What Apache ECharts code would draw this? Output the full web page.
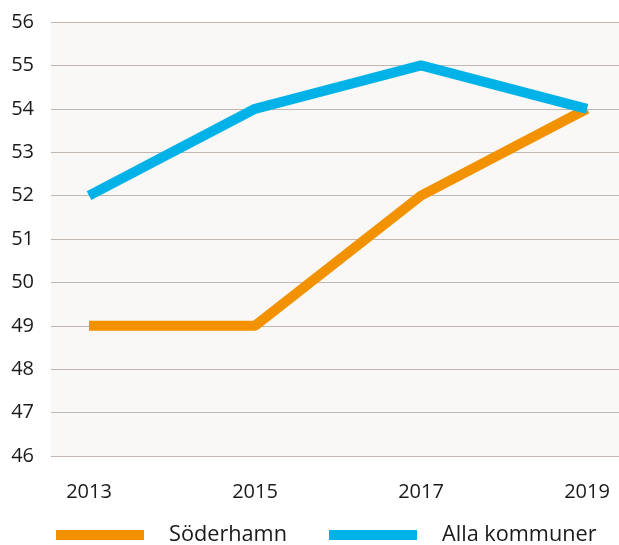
<!DOCTYPE html>
<html>
<head>
<meta charset="utf-8">
<script src="https://cdn.jsdelivr.net/npm/echarts@6/dist/echarts.min.js"></script>
<style>
  html, body { margin: 0; padding: 0; background: #ffffff; }
  #chart { width: 619px; height: 545px; }
</style>
</head>
<body>
<div id="chart"></div>
<script>
// Survey years shown on the x axis
const years = [2013, 2015, 2017, 2019];
// Index values per year
const soderhamn = [49, 49, 52, 54];
const allaKommuner = [52, 54, 55, 54];
// Y axis range
const yMin = 46, yMax = 56, yStep = 1;

const pairs = (vals) => years.map((y, i) => [y, vals[i]]);

const chart = echarts.init(document.getElementById('chart'), null, { renderer: 'canvas' });
const font = '"Open Sans", "Noto Sans", sans-serif';

chart.setOption({
  animation: false,
  textStyle: { fontFamily: font },
  grid: {
    left: 51, top: 22, right: 0, height: 434,
    show: true, backgroundColor: '#f9f8f7', borderWidth: 0
  },
  legend: {
    left: 56, top: 524, padding: 0,
    itemWidth: 88, itemHeight: 10, itemGap: 42,
    icon: 'rect',
    textStyle: {
      fontSize: 21.7, lineHeight: 22, color: '#1a1a1a', fontFamily: font,
      padding: [0, 0, 0, 20]
    },
    data: ['Söderhamn', 'Alla kommuner']
  },
  xAxis: {
    type: 'value',
    min: 2012.542, max: 2019.385,
    axisLine: { show: false },
    axisTick: { show: false },
    splitLine: { show: false },
    axisLabel: {
      customValues: years,
      fontSize: 20, color: '#1a1a1a', margin: 26,
      formatter: (v) => String(v)
    }
  },
  yAxis: {
    type: 'value',
    min: yMin, max: yMax, interval: yStep,
    axisLine: { show: false },
    axisTick: { show: false },
    axisLabel: { fontSize: 20, color: '#1a1a1a', margin: 17 },
    splitLine: { lineStyle: { color: '#c2b6b0', width: 1 } }
  },
  series: [
    {
      name: 'Söderhamn', type: 'line', data: pairs(soderhamn),
      showSymbol: false, symbol: 'none',
      itemStyle: { color: '#f39200' },
      lineStyle: { color: '#f39200', width: 10 }
    },
    {
      name: 'Alla kommuner', type: 'line', data: pairs(allaKommuner),
      showSymbol: false, symbol: 'none',
      itemStyle: { color: '#00b2e8' },
      lineStyle: { color: '#00b2e8', width: 10 }
    }
  ]
});
</script>
</body>
</html>
